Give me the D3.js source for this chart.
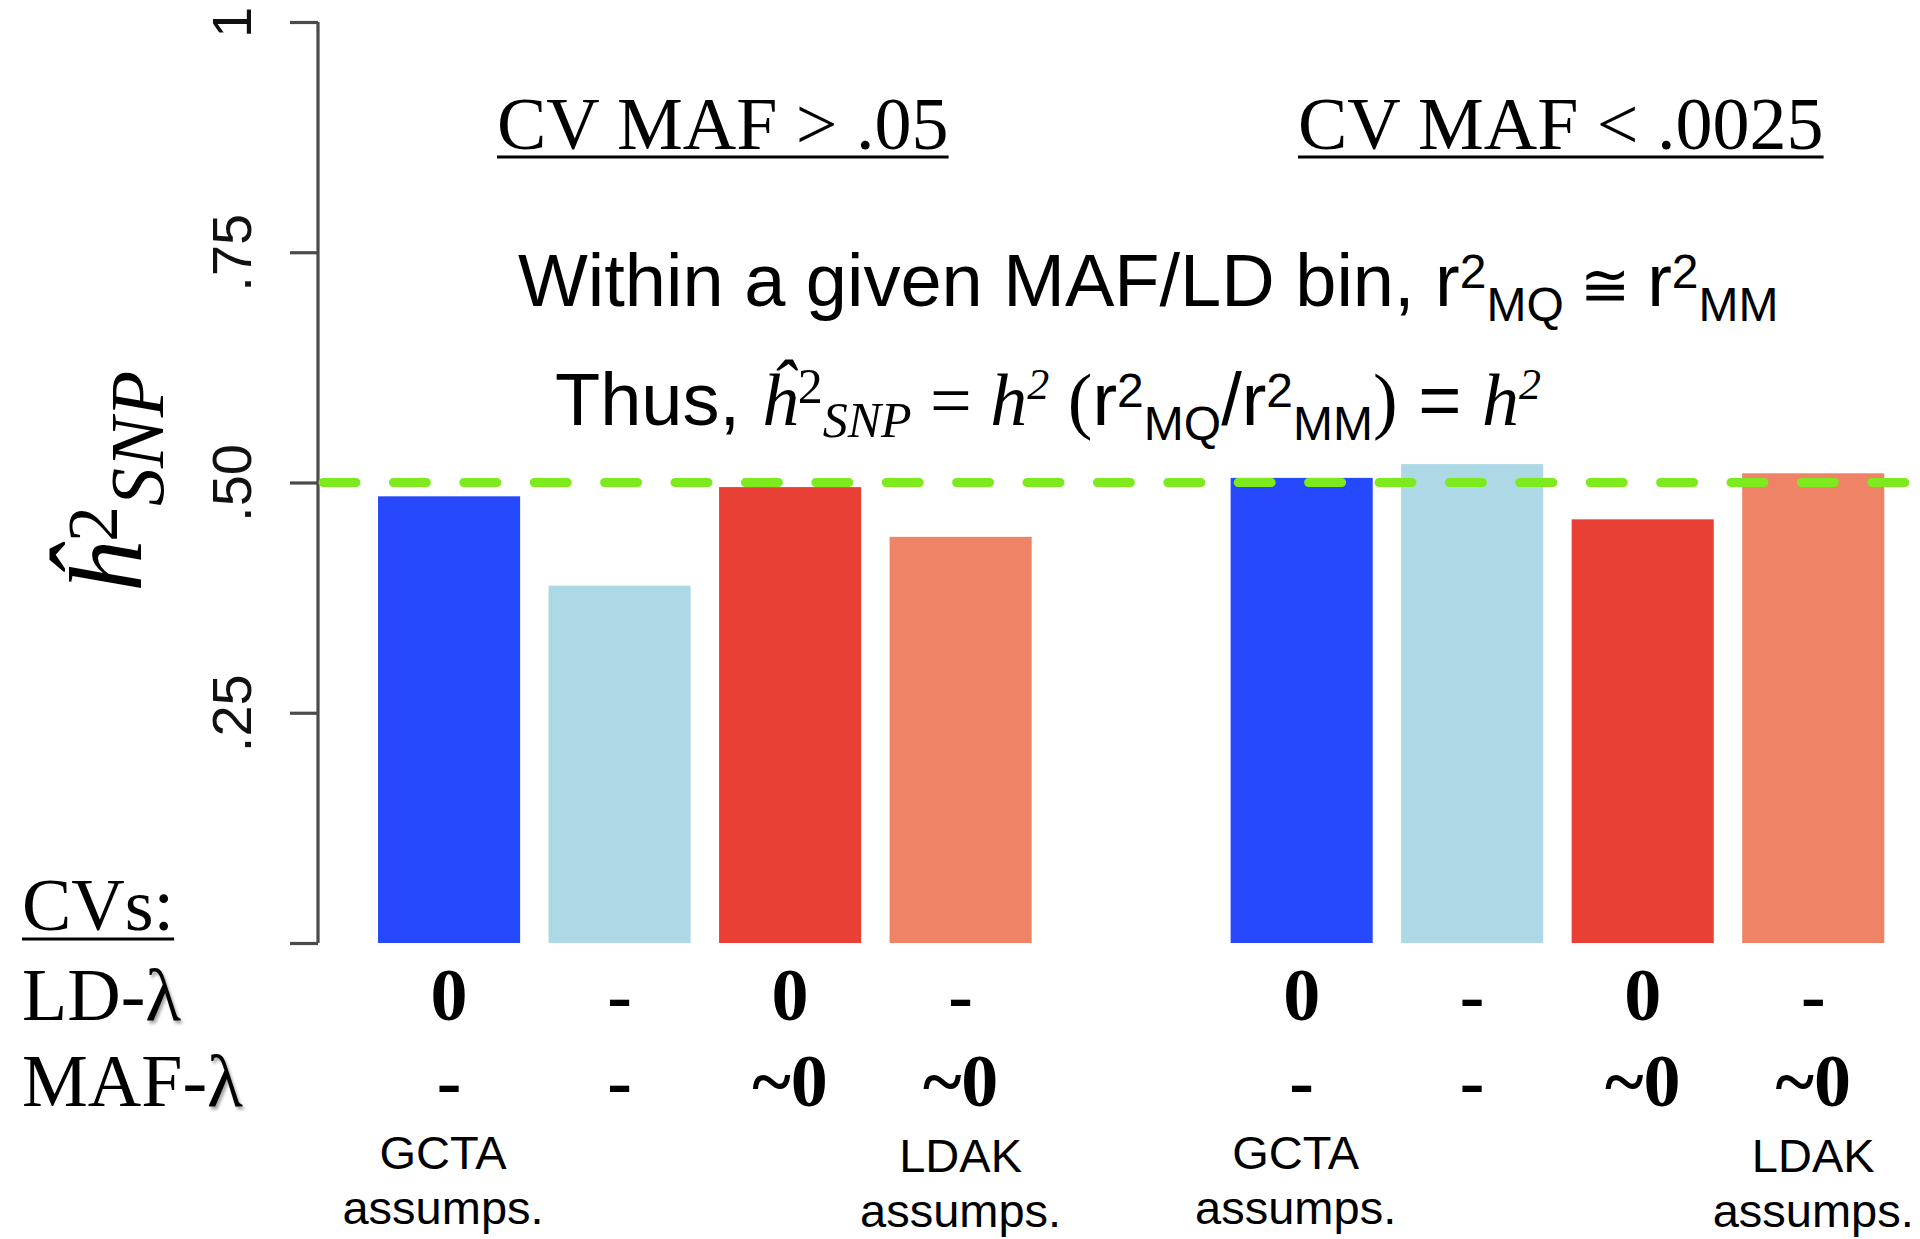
<!DOCTYPE html>
<html>
<head>
<meta charset="utf-8">
<script src="https://cdn.jsdelivr.net/npm/d3@7"></script>
<style>
  html, body { margin: 0; padding: 0; background: #fff; }
  svg { display: block; }
</style>
</head>
<body>
<svg id="chart" width="1920" height="1239"></svg>
<script>
// ---- data ----
const groupTitles = ["CV MAF > .05", "CV MAF < .0025"];
const slots = [0, 1, 2, 3, 5, 6, 7, 8];            // bar slot per estimate (slot 4 left empty between groups)
const h2Estimates = [0.485, 0.388, 0.495, 0.441, 0.505, 0.520, 0.460, 0.510];
const barColors = ["#2649FD", "#ADD8E6", "#E84034", "#EE8365", "#2649FD", "#ADD8E6", "#E84034", "#EE8365"];
const ldLambda  = ["0", "-", "0", "-", "0", "-", "0", "-"];
const mafLambda = ["-", "-", "~0", "~0", "-", "-", "~0", "~0"];
const assumpNames = ["GCTA", "", "", "LDAK", "GCTA", "", "", "LDAK"];
const trueH2 = 0.5;
const yTickValues = [0, 0.25, 0.5, 0.75, 1];
const yTickLabels = ["", ".25", ".50", ".75", "1"];

const SERIF = "'Liberation Serif', 'Times New Roman', serif";
const SANS = "'Liberation Sans', Arial, Helvetica, sans-serif";

const svg = d3.select("#chart");

const defs = svg.append("defs");
const f = defs.append("filter").attr("id", "lamShadow").attr("x", "-30%").attr("y", "-30%").attr("width", "160%").attr("height", "160%");
f.append("feDropShadow").attr("dx", 2).attr("dy", 3).attr("stdDeviation", 1.6).attr("flood-color", "#000").attr("flood-opacity", 0.35);

// ---- scales (barplot user coordinates: bar width 1, space 0.2) ----
const axisX = 318;
const x = d3.scaleLinear().domain([0, 10.8]).range([349.6, 349.6 + 10.8 * 142.1]);
const y = d3.scaleLinear().domain([0, 1]).range([943, 22]);
const barLeft = s => x(0.2 + s * 1.2);
const barRight = s => x(1.2 + s * 1.2);
const barCenter = s => (barLeft(s) + barRight(s)) / 2;

// ---- bars ----
svg.append("g").selectAll("rect")
  .data(h2Estimates)
  .join("rect")
  .attr("x", (d, i) => barLeft(slots[i]))
  .attr("width", (d, i) => barRight(slots[i]) - barLeft(slots[i]))
  .attr("y", d => y(d))
  .attr("height", d => y(0) - y(d))
  .attr("fill", (d, i) => barColors[i]);

// ---- y axis ----
const yAxis = d3.axisLeft(y)
  .tickValues(yTickValues)
  .tickSize(28)
  .tickFormat((d, i) => yTickLabels[i]);

const gy = svg.append("g")
  .attr("transform", `translate(${axisX},0)`)
  .call(yAxis);
gy.select(".domain").attr("d", `M0,${y(1)}V${y(0)}`).attr("stroke", "#4a4a4a").attr("stroke-width", 3.2).attr("fill", "none");
gy.selectAll(".tick line").attr("stroke", "#4a4a4a").attr("stroke-width", 3.2);
gy.selectAll(".tick text")
  .attr("x", null).attr("dy", null)
  .attr("transform", "translate(-67,0) rotate(-90)")
  .attr("text-anchor", "middle")
  .attr("font-family", SANS)
  .attr("font-size", 56)
  .attr("fill", "#111");

// ---- reference line at the true heritability ----
svg.append("line")
  .attr("x1", axisX + 5).attr("x2", 1930)
  .attr("y1", y(trueH2)).attr("y2", y(trueH2))
  .attr("stroke", "#7DEA1E")
  .attr("stroke-width", 9)
  .attr("stroke-linecap", "round")
  .attr("stroke-dasharray", "33,37.4");

// ---- y axis title: h-hat^2 SNP ----
const yt = svg.append("text")
  .attr("transform", "translate(141,594) rotate(-90)")
  .attr("font-family", SERIF)
  .attr("font-style", "italic")
  .attr("fill", "#000");
yt.append("tspan").attr("font-size", 104).text("ĥ");
yt.append("tspan").attr("font-size", 72).attr("font-style", "normal").attr("dy", -24).text("2");
yt.append("tspan").attr("font-size", 76).attr("dy", 46).text("SNP");

// ---- group headings ----
const headX = [497, 1298];
groupTitles.forEach((t, i) => {
  const tx = svg.append("text")
    .attr("x", headX[i]).attr("y", 149)
    .attr("font-family", SERIF).attr("font-size", 74).attr("fill", "#000")
    .text(t);
  const w = tx.node().getComputedTextLength();
  svg.append("line")
    .attr("x1", headX[i]).attr("x2", headX[i] + w)
    .attr("y1", 157).attr("y2", 157)
    .attr("stroke", "#000").attr("stroke-width", 3.2);
});

// ---- explanatory text ----
const sup = -18, sub = 15;
const l1 = svg.append("text").attr("x", 518).attr("y", 306)
  .attr("font-family", SANS).attr("font-size", 74).attr("fill", "#000");
l1.append("tspan").text("Within a given MAF/LD bin, r");
l1.append("tspan").attr("font-size", 48).attr("dy", sup).text("2");
l1.append("tspan").attr("font-size", 48).attr("dy", sub - sup).text("MQ");
l1.append("tspan").attr("font-size", 60).attr("dy", -sub).text(" ≅ ");
l1.append("tspan").text("r");
l1.append("tspan").attr("font-size", 48).attr("dy", sup).text("2");
l1.append("tspan").attr("font-size", 48).attr("dy", sub - sup).text("MM");

const l2 = svg.append("text").attr("x", 555).attr("y", 425)
  .attr("font-family", SANS).attr("font-size", 74).attr("fill", "#000");
l2.append("tspan").text("Thus, ");
l2.append("tspan").attr("font-family", SERIF).attr("font-style", "italic").text("ĥ");
l2.append("tspan").attr("font-family", SERIF).attr("font-size", 50).attr("dy", -22).text("2");
l2.append("tspan").attr("font-family", SERIF).attr("font-style", "italic").attr("font-size", 50).attr("dy", 34).text("SNP");
l2.append("tspan").attr("font-family", SERIF).attr("dy", -12).text(" = ");
l2.append("tspan").attr("font-family", SERIF).attr("font-style", "italic").text("h");
l2.append("tspan").attr("font-family", SERIF).attr("font-style", "italic").attr("font-size", 44).attr("dy", -26).text("2");
l2.append("tspan").attr("font-family", SERIF).attr("dy", 26).text(" (");
l2.append("tspan").text("r");
l2.append("tspan").attr("font-size", 48).attr("dy", sup).text("2");
l2.append("tspan").attr("font-size", 48).attr("dy", sub - sup).text("MQ");
l2.append("tspan").attr("dy", -sub).text("/r");
l2.append("tspan").attr("font-size", 48).attr("dy", sup).text("2");
l2.append("tspan").attr("font-size", 48).attr("dy", sub - sup).text("MM");
l2.append("tspan").attr("font-family", SERIF).attr("dy", -sub).text(")");
l2.append("tspan").text(" = ");
l2.append("tspan").attr("font-family", SERIF).attr("font-style", "italic").text("h");
l2.append("tspan").attr("font-family", SERIF).attr("font-style", "italic").attr("font-size", 44).attr("dy", -26).text("2");

// ---- row labels under the axis ----
const cvs = svg.append("text").attr("x", 22).attr("y", 930)
  .attr("font-family", SERIF).attr("font-size", 74).attr("fill", "#000").text("CVs:");
const cvw = cvs.node().getComputedTextLength();
svg.append("line").attr("x1", 22).attr("x2", 22 + cvw).attr("y1", 939).attr("y2", 939)
  .attr("stroke", "#000").attr("stroke-width", 3.2);

const rowLabels = [["LD-", 1020], ["MAF-", 1106]];
rowLabels.forEach(([lab, yy]) => {
  const t = svg.append("text").attr("x", 22).attr("y", yy)
    .attr("font-family", SERIF).attr("font-size", 74).attr("fill", "#000");
  t.append("tspan").text(lab);
  t.append("tspan").attr("filter", "url(#lamShadow)").text("λ");
});

svg.append("g").selectAll("text")
  .data(ldLambda)
  .join("text")
  .attr("x", (d, i) => barCenter(slots[i]))
  .attr("y", 1020)
  .attr("text-anchor", "middle")
  .attr("font-family", SERIF).attr("font-weight", "bold").attr("font-size", 74)
  .text(d => d);

svg.append("g").selectAll("text")
  .data(mafLambda)
  .join("text")
  .attr("x", (d, i) => barCenter(slots[i]))
  .attr("y", 1106)
  .attr("text-anchor", "middle")
  .attr("font-family", SERIF).attr("font-weight", "bold").attr("font-size", 74)
  .text(d => d);

// ---- method captions ----
assumpNames.forEach((name, i) => {
  if (!name) return;
  const cx = barCenter(slots[i]) - (name === "GCTA" ? 6 : 0);
  const off = name === "LDAK" ? 3 : 0;
  svg.append("text").attr("x", cx).attr("y", 1169 + off)
    .attr("text-anchor", "middle").attr("font-family", SANS).attr("font-size", 47).text(name);
  svg.append("text").attr("x", cx).attr("y", 1224 + off)
    .attr("text-anchor", "middle").attr("font-family", SANS).attr("font-size", 47).text("assumps.");
});
</script>
</body>
</html>
